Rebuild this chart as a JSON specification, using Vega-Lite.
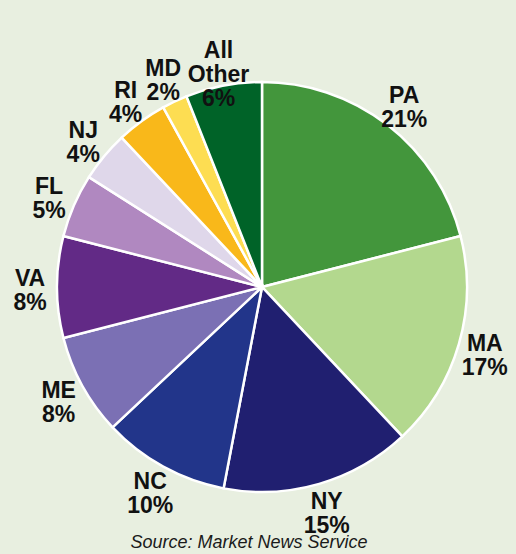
{
  "$schema": "https://vega.github.io/schema/vega-lite/v6.json",
  "width": 508,
  "height": 494,
  "autosize": "none",
  "padding": {"left": 8, "top": 40, "right": 0, "bottom": 20},
  "background": "#e8efe0",
  "title": {
    "text": "Source: Market News Service",
    "orient": "bottom",
    "anchor": "middle",
    "frame": "group",
    "baseline": "top",
    "font": "Liberation Sans",
    "fontSize": 18,
    "fontStyle": "italic",
    "fontWeight": "normal",
    "color": "#1a1a1a",
    "offset": 0,
    "dx": -13,
    "dy": -4
  },
  "config": {"view": {"stroke": null}},
  "data": {
    "values": [
      {"state": "PA", "pct": 21, "rank": 1, "label": "PA\n21%"},
      {"state": "MA", "pct": 17, "rank": 2, "label": "MA\n17%"},
      {"state": "NY", "pct": 15, "rank": 3, "label": "NY\n15%"},
      {"state": "NC", "pct": 10, "rank": 4, "label": "NC\n10%"},
      {"state": "ME", "pct": 8, "rank": 5, "label": "ME\n8%"},
      {"state": "VA", "pct": 8, "rank": 6, "label": "VA\n8%"},
      {"state": "FL", "pct": 5, "rank": 7, "label": "FL\n5%"},
      {"state": "NJ", "pct": 4, "rank": 8, "label": "NJ\n4%"},
      {"state": "RI", "pct": 4, "rank": 9, "label": "RI\n4%"},
      {"state": "MD", "pct": 2, "rank": 10, "label": "MD\n2%"},
      {"state": "All Other", "pct": 6, "rank": 11, "label": "All\nOther\n6%"}
    ]
  },
  "encoding": {
    "theta": {"field": "pct", "type": "quantitative", "stack": true},
    "order": {"field": "rank", "type": "quantitative"}
  },
  "layer": [
    {
      "mark": {"type": "arc", "outerRadius": 205, "stroke": "white", "strokeWidth": 2.5},
      "encoding": {
        "color": {
          "field": "state",
          "type": "nominal",
          "legend": null,
          "scale": {
            "domain": ["PA", "MA", "NY", "NC", "ME", "VA", "FL", "NJ", "RI", "MD", "All Other"],
            "range": ["#43963c", "#b3d88e", "#201f70", "#22358a", "#7b70b4", "#622a86", "#b088c0", "#dfd7ea", "#f9b81a", "#fddd52", "#006328"]
          }
        }
      }
    },
    {
      "mark": {
        "type": "text",
        "radius": 232,
        "dy": -8,
        "font": "Liberation Sans",
        "fontSize": 23,
        "fontWeight": "bold",
        "lineHeight": 24,
        "lineBreak": "\n",
        "color": "#111111",
        "align": "center",
        "baseline": "middle"
      },
      "encoding": {
        "text": {"field": "label", "type": "nominal"}
      }
    }
  ]
}
